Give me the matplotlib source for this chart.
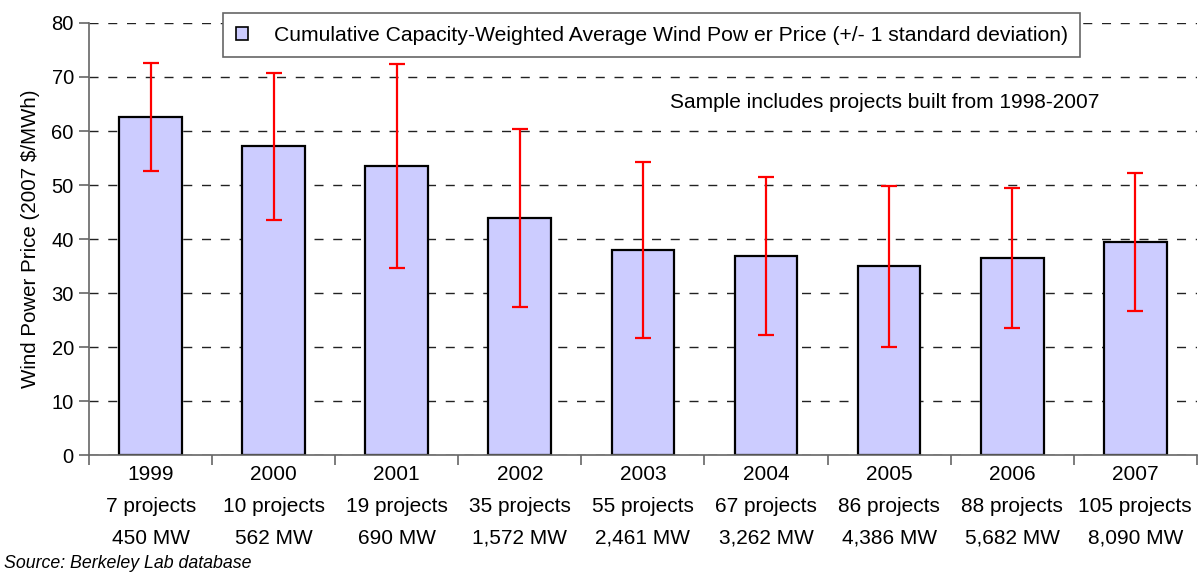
import matplotlib
matplotlib.use("Agg")
import matplotlib.pyplot as plt
from matplotlib.patches import Rectangle
import numpy as np

plt.rcParams['font.family'] = ['Liberation Sans', 'DejaVu Sans']

years = ["1999", "2000", "2001", "2002", "2003", "2004", "2005", "2006", "2007"]
projects = ["7 projects", "10 projects", "19 projects", "35 projects", "55 projects",
            "67 projects", "86 projects", "88 projects", "105 projects"]
capacity = ["450 MW", "562 MW", "690 MW", "1,572 MW", "2,461 MW",
            "3,262 MW", "4,386 MW", "5,682 MW", "8,090 MW"]
avg_price = [62.6, 57.2, 53.5, 43.9, 38.0, 36.9, 35.0, 36.5, 39.4]
std_dev = [10.0, 13.6, 18.9, 16.5, 16.3, 14.6, 14.9, 12.9, 12.8]

fig = plt.figure(figsize=(12.04, 5.74), dpi=100)
ax = fig.add_axes([0.074, 0.207, 0.920, 0.753])

x = np.arange(len(years))
ax.bar(x, avg_price, width=0.51, color="#CCCCFF", edgecolor="black", linewidth=1.6, zorder=2)
ax.errorbar(x, avg_price, yerr=std_dev, fmt="none", ecolor="#FF0000", elinewidth=1.6,
            capsize=5.5, capthick=1.6, zorder=3)

ax.set_xlim(-0.5, len(years) - 0.5)
ax.set_ylim(0, 80)
ax.set_yticks(np.arange(0, 81, 10))
ax.yaxis.grid(True, linestyle=(0, (6.5, 7)), color="#222222", linewidth=1.0, zorder=0)
ax.set_axisbelow(True)

ax.set_xticks(np.arange(-0.5, len(years), 1.0))
ax.set_xticklabels([])
ax.set_xticks(x, minor=True)
ax.set_xticklabels([f"{y}\n{p}\n{c}" for y, p, c in zip(years, projects, capacity)],
                   minor=True, linespacing=1.86)
ax.tick_params(axis="x", which="minor", length=0, pad=7, labelsize=15)
ax.tick_params(axis="x", which="major", length=7, color="#666666", width=1.2)
ax.tick_params(axis="y", length=7, color="#666666", width=1.2, labelsize=14.5, pad=4)

for s in ["top", "right"]:
    ax.spines[s].set_visible(False)
for s in ["left", "bottom"]:
    ax.spines[s].set_color("#666666")
    ax.spines[s].set_linewidth(1.2)

ax.set_ylabel("Wind Power Price (2007 $/MWh)", fontsize=14.8, labelpad=8)

handle = Rectangle((0, 0), 1, 1, facecolor="#CCCCFF", edgecolor="black", linewidth=1.2)
leg = ax.legend([handle], ["Cumulative Capacity-Weighted Average Wind Pow er Price (+/- 1 standard deviation)"],
                loc="upper left", bbox_to_anchor=(0.121, 1.023), fontsize=15.2,
                fancybox=False, framealpha=1, edgecolor="#666666",
                handlelength=0.6, handleheight=0.6, handletextpad=1.2,
                borderpad=0.6, borderaxespad=0)
leg.get_frame().set_linewidth(1.2)
leg.set_zorder(5)

ax.text(0.912, 0.815, "Sample includes projects built from 1998-2007", transform=ax.transAxes,
        ha="right", va="center", fontsize=15)

fig.text(0.003, 0.003, "Source: Berkeley Lab database", fontsize=12.8, style="italic",
         ha="left", va="bottom")

fig.savefig("out.png", dpi=100)
